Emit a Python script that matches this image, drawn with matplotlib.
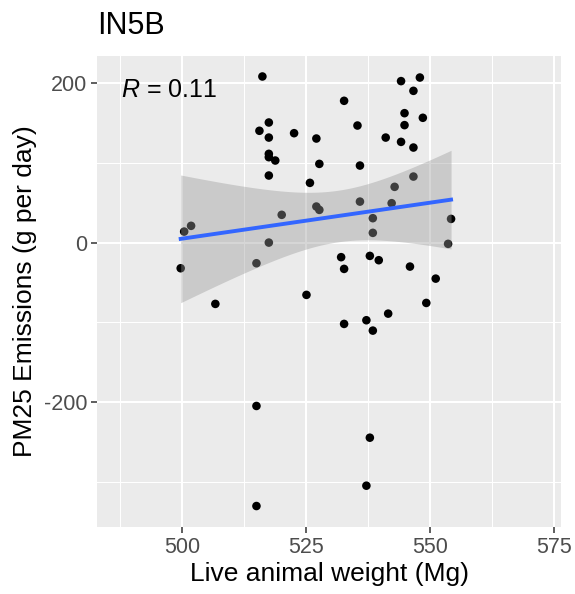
import numpy as np
import matplotlib
matplotlib.use("Agg")
import matplotlib.pyplot as plt

plt.rcParams['font.family'] = ['Liberation Sans', 'DejaVu Sans']
plt.rcParams['mathtext.fontset'] = 'custom'
plt.rcParams['mathtext.it'] = 'Liberation Sans:italic'
plt.rcParams['mathtext.rm'] = 'Liberation Sans'
plt.rcParams['axes.unicode_minus'] = False

title = "IN5B"
x_label = "Live animal weight (Mg)"
y_label = "PM25 Emissions (g per day)"
r_label = r"$\mathit{R}$ = 0.11"
x_ticks = [500, 525, 550, 575]
y_ticks = [-200, 0, 200]

weight = [516.2, 517.5, 515.6, 522.6, 517.5, 527.1, 517.5, 517.5, 518.8, 527.7,
          517.5, 525.8, 527.1, 527.7, 520.1, 501.8, 500.4, 517.5, 515.0, 499.7,
          544.2, 548.0, 546.7, 532.7, 544.9, 548.6, 544.9, 535.4, 541.1, 544.2,
          546.7, 535.9, 546.7, 542.9, 535.9, 542.3, 538.5, 554.3, 538.5, 553.7,
          532.1, 537.9, 539.7, 532.7, 546.0, 551.2,
          506.7, 525.1, 515.0, 515.0,
          549.3, 541.6, 532.7, 537.2, 538.5, 537.9, 537.2]
emissions = [208.3, 150.6, 140.2, 137.2, 131.7, 130.5, 111.3, 107.1, 102.9, 98.7,
             84.1, 74.9, 45.2, 41.0, 34.8, 21.0, 13.8, 0.0, -25.9, -32.2,
             202.5, 207.0, 190.3, 177.8, 162.3, 156.5, 147.3, 146.8, 131.7, 126.3,
             119.2, 96.6, 82.8, 69.9, 51.4, 49.4, 30.6, 29.7, 12.2, -1.6,
             -18.3, -16.7, -22.1, -33.0, -30.1, -45.2,
             -76.9, -65.6, -204.9, -330.4,
             -75.7, -89.1, -102.0, -97.4, -110.4, -244.7, -304.9]

x = np.array(weight)
y = np.array(emissions)
n = len(x)
slope, intercept = np.polyfit(x, y, 1)
xs = np.linspace(x.min(), x.max(), 80)
ys = intercept + slope * xs
resid = y - (intercept + slope * x)
s = np.sqrt(np.sum(resid ** 2) / (n - 2))
sxx = np.sum((x - x.mean()) ** 2)
se = s * np.sqrt(1.0 / n + (xs - x.mean()) ** 2 / sxx)
tval = 2.003

W, H = 575, 594
fig = plt.figure(figsize=(W / 100, H / 100), dpi=100)
ax = fig.add_axes([97 / W, (H - 527) / H, (561 - 97) / W, (527 - 56) / H])
ax.set_facecolor('#EBEBEB')
ax.set_xlim(482.8, 576.5)
ax.set_ylim(-356.7, 234.0)
ax.xaxis.set_major_locator(matplotlib.ticker.FixedLocator(x_ticks))
ax.yaxis.set_major_locator(matplotlib.ticker.FixedLocator(y_ticks))
ax.xaxis.set_minor_locator(matplotlib.ticker.FixedLocator([487.5, 512.5, 537.5, 562.5]))
ax.yaxis.set_minor_locator(matplotlib.ticker.FixedLocator([-300, -100, 100]))
ax.grid(which='major', color='white', linewidth=1.5)
ax.grid(which='minor', color='white', linewidth=0.75)
ax.set_axisbelow(True)
for sp in ax.spines.values():
    sp.set_visible(False)
ax.tick_params(which='major', length=4, width=1.1, color='#333333',
               labelsize=15.5, labelcolor='#4D4D4D', pad=3)
ax.tick_params(which='minor', length=0)

ax.scatter(x, y, s=38, color='black', edgecolors='none', zorder=3)
ax.fill_between(xs, ys - tval * se, ys + tval * se, color='#999999', alpha=0.4,
                linewidth=0, zorder=4)
ax.plot(xs, ys, color='#3366FF', linewidth=2.8, zorder=5)

ax.text(487.6, 191.5, r_label, fontsize=18, ha='left', va='center', color='black', zorder=6)

ax.set_xlabel(x_label, fontsize=19, labelpad=3)
ax.set_ylabel(y_label, fontsize=19, labelpad=5)
fig.text(97 / W, 1 - 34 / H, title, fontsize=22, ha='left', va='baseline')

fig.savefig('out.png', dpi=100)
